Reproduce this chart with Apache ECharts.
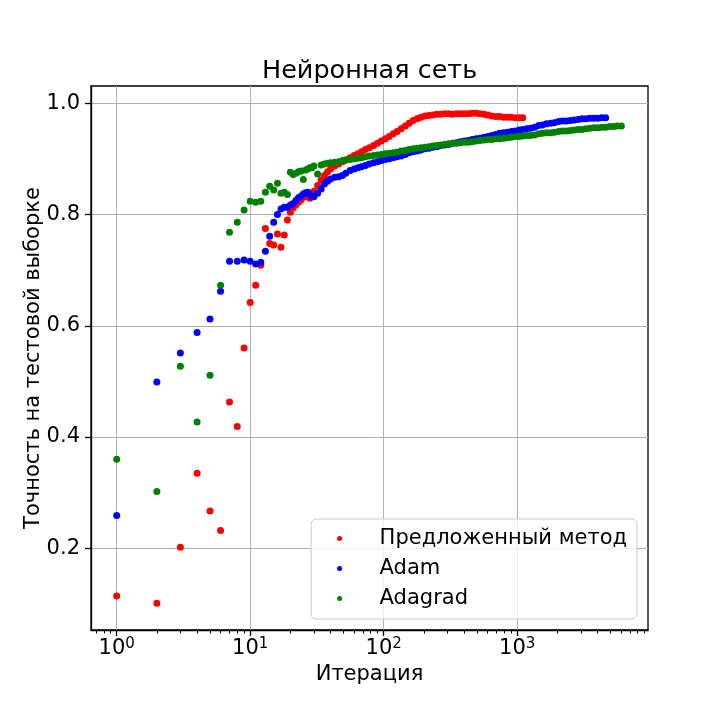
<!DOCTYPE html>
<html style="height: 100%">
<head>
    <meta charset="UTF-8">
    <title>Нейронная сеть</title>
    <script src="https://cdn.jsdelivr.net/npm/echarts@6/dist/echarts.min.js"></script>
    <style>
        #main {
            width: 720px;
            height: 720px;
        }
    </style>
</head>
<body style="margin: 0; background: #fff">
    <div id="main"></div>
    <script type="text/javascript">
        // iteration numbers (every step up to 30, then sampled along the dense part)
        var iterations = [
            1, 2, 3, 4, 5, 6, 7, 8, 9, 10, 11, 12, 13, 14, 15, 16, 17, 18, 19, 20,
            21, 22, 23, 24, 25, 26, 27, 28, 29, 30,
            32, 34, 36, 38, 40, 43, 46, 49, 52, 56, 60, 64, 68, 73, 78, 84, 90, 96, 103, 110,
            118, 126, 135, 145, 155, 166, 178, 190, 204, 218, 233, 250, 267, 286, 306, 328, 351, 375, 402, 430,
            460, 492, 527, 564, 603, 645, 690, 739, 791, 846, 905, 969, 1037, 1100,
            1180, 1260, 1350, 1450, 1550, 1660, 1780, 1900, 2040, 2180, 2330, 2500, 2670, 2860, 3060,
            3280, 3510, 3750, 4020, 4300, 4600, 4920, 5270, 5640, 6030
        ];

        var proposed = [
            0.114, 0.101, 0.202, 0.335, 0.267, 0.232, 0.463, 0.419, 0.560, 0.642,
            0.673, 0.709, 0.775, 0.748, 0.745, 0.765, 0.741, 0.763, 0.790, 0.804,
            0.812, 0.817, 0.822, 0.826, 0.831, 0.834, 0.832, 0.829, 0.835, 0.842,
            0.852, 0.862, 0.870, 0.877, 0.882, 0.887, 0.891, 0.895, 0.898, 0.902,
            0.906, 0.909, 0.913, 0.917, 0.920, 0.924, 0.928, 0.932, 0.936, 0.940,
            0.945, 0.949, 0.954, 0.959, 0.964, 0.969, 0.972, 0.975, 0.977, 0.978,
            0.979, 0.980, 0.980, 0.981, 0.981, 0.980, 0.981, 0.981, 0.981, 0.981,
            0.982, 0.982, 0.981, 0.980, 0.979, 0.977, 0.976, 0.976, 0.975, 0.975,
            0.975, 0.974, 0.974, 0.974
        ];

        var adam = [
            0.259, 0.499, 0.551, 0.588, 0.612, 0.662, 0.716, 0.716, 0.718, 0.716,
            0.711, 0.714, 0.734, 0.761, 0.786, 0.800, 0.810, 0.813, 0.813, 0.817,
            0.820, 0.825, 0.830, 0.833, 0.837, 0.839, 0.840, 0.836, 0.832, 0.832,
            0.838, 0.846, 0.855, 0.860, 0.864, 0.867, 0.868, 0.870, 0.874, 0.879,
            0.882, 0.884, 0.886, 0.888, 0.891, 0.893, 0.895, 0.897, 0.899, 0.900,
            0.902, 0.904, 0.905, 0.908, 0.911, 0.913, 0.914, 0.916, 0.918, 0.919,
            0.921, 0.922, 0.924, 0.925, 0.926, 0.928, 0.929, 0.931, 0.932, 0.933,
            0.935, 0.936, 0.937, 0.939, 0.940, 0.942, 0.944, 0.946, 0.947, 0.948,
            0.949, 0.950, 0.952, 0.953, 0.954, 0.955, 0.957, 0.960, 0.961, 0.963,
            0.964, 0.965, 0.967, 0.968, 0.968, 0.969, 0.970, 0.971, 0.972, 0.972,
            0.973, 0.973, 0.973, 0.974, 0.974
        ];

        var adagrad = [
            0.360, 0.302, 0.527, 0.427, 0.511, 0.673, 0.768, 0.786, 0.808, 0.824,
            0.822, 0.824, 0.840, 0.851, 0.844, 0.856, 0.838, 0.840, 0.836, 0.876,
            0.872, 0.874, 0.877, 0.878, 0.863, 0.880, 0.882, 0.884, 0.884, 0.887,
            0.873, 0.889, 0.891, 0.892, 0.893, 0.894, 0.895, 0.897, 0.898, 0.899,
            0.900, 0.901, 0.902, 0.904, 0.905, 0.906, 0.907, 0.908, 0.909, 0.910,
            0.911, 0.912, 0.914, 0.915, 0.917, 0.918, 0.919, 0.920, 0.921, 0.922,
            0.923, 0.924, 0.925, 0.926, 0.927, 0.928, 0.928, 0.929, 0.930, 0.930,
            0.931, 0.932, 0.933, 0.934, 0.935, 0.935, 0.936, 0.936, 0.937, 0.938,
            0.939, 0.940, 0.940, 0.941, 0.942, 0.942, 0.943, 0.945, 0.946, 0.947,
            0.947, 0.948, 0.949, 0.950, 0.950, 0.951, 0.952, 0.953, 0.953, 0.954,
            0.955, 0.956, 0.956, 0.957, 0.957, 0.958, 0.958, 0.959, 0.959
        ];

        var seriesNames = ['Предложенный метод', 'Adam', 'Adagrad'];
        var seriesColors = ['#ff0000', '#0000ff', '#008000'];
        var xMajorTicks = [1, 10, 100, 1000];
        var xMinorTicks = [
            0.7, 0.8, 0.9, 2, 3, 4, 5, 6, 7, 8, 9, 20, 30, 40, 50, 60, 70, 80, 90,
            200, 300, 400, 500, 600, 700, 800, 900, 2000, 3000, 4000, 5000, 6000, 7000, 8000, 9000
        ];
        var yTicks = [0.2, 0.4, 0.6, 0.8, 1.0];

        function pairs(values) {
            return values.map(function (v, i) {
                return [iterations[i], v];
            });
        }

        var font = 'DejaVu Sans';
        var chartDom = document.getElementById('main');
        var myChart = echarts.init(chartDom);
        var option;

        option = {
            animation: false,
            backgroundColor: '#ffffff',
            textStyle: { fontFamily: font },
            title: {
                text: 'Нейронная сеть',
                left: 262,
                top: 58,
                padding: 0,
                textStyle: { fontFamily: font, fontSize: 25.5, fontWeight: 'normal', color: '#000' }
            },
            grid: {
                left: 91,
                right: 72,
                top: 86,
                bottom: 90,
                show: true,
                borderColor: '#000',
                borderWidth: 1.3,
                backgroundColor: 'transparent'
            },
            legend: {
                data: seriesNames,
                orient: 'vertical',
                right: 83,
                bottom: 101,
                icon: 'circle',
                itemWidth: 10,
                itemHeight: 5,
                itemGap: 9,
                padding: [9, 10, 10, 26],
                backgroundColor: 'rgba(255,255,255,0.8)',
                borderColor: '#cccccc',
                borderWidth: 1,
                borderRadius: 5,
                selectedMode: false,
                textStyle: {
                    fontFamily: font,
                    fontSize: 21,
                    color: '#000',
                    padding: [0, 0, 0, 30]
                }
            },
            xAxis: [{
                type: 'log',
                logBase: 10,
                min: 0.642,
                max: 9550,
                name: 'Итерация',
                nameLocation: 'middle',
                nameGap: 34,
                nameMoveOverlap: false,
                nameTextStyle: { fontFamily: font, fontSize: 21, color: '#000' },
                axisLine: { show: true, lineStyle: { color: '#000', width: 1.3 } },
                axisTick: {
                    show: true,
                    length: 6,
                    customValues: xMajorTicks,
                    lineStyle: { color: '#000', width: 1.3 }
                },
                axisLabel: {
                    customValues: xMajorTicks,
                    margin: 7,
                    color: '#000',
                    formatter: function (v) {
                        return '{b|10}{e|' + Math.round(Math.log10(v)) + '}';
                    },
                    rich: {
                        b: { fontFamily: font, fontSize: 21, lineHeight: 24, color: '#000' },
                        e: { fontFamily: font, fontSize: 15, lineHeight: 15, verticalAlign: 'top', color: '#000' }
                    }
                },
                splitLine: { show: true, lineStyle: { color: '#b0b0b0', width: 1 } }
            }, {
                type: 'log',
                logBase: 10,
                min: 0.642,
                max: 9550,
                position: 'bottom',
                axisLine: { show: false },
                axisLabel: { show: false },
                splitLine: { show: false },
                axisTick: {
                    show: true,
                    length: 3.5,
                    customValues: xMinorTicks,
                    lineStyle: { color: '#000', width: 1 }
                }
            }],
            yAxis: {
                type: 'value',
                min: 0.0531,
                max: 1.031,
                name: 'Точность на тестовой выборке',
                nameLocation: 'middle',
                nameGap: 47,
                nameMoveOverlap: false,
                nameTextStyle: { fontFamily: font, fontSize: 21, color: '#000' },
                axisLine: { show: true, lineStyle: { color: '#000', width: 1.3 } },
                axisTick: {
                    show: true,
                    length: 6,
                    customValues: yTicks,
                    lineStyle: { color: '#000', width: 1.3 }
                },
                axisLabel: {
                    customValues: yTicks,
                    margin: 11,
                    fontFamily: font,
                    fontSize: 21,
                    color: '#000',
                    formatter: function (v) {
                        return v.toFixed(1);
                    }
                },
                splitLine: { show: true, lineStyle: { color: '#b0b0b0', width: 1 } }
            },
            series: [{
                name: seriesNames[0],
                type: 'scatter',
                xAxisIndex: 0,
                symbolSize: 7,
                itemStyle: { color: seriesColors[0], opacity: 1 },
                data: pairs(proposed)
            }, {
                name: seriesNames[1],
                type: 'scatter',
                xAxisIndex: 0,
                symbolSize: 7,
                itemStyle: { color: seriesColors[1], opacity: 1 },
                data: pairs(adam)
            }, {
                name: seriesNames[2],
                type: 'scatter',
                xAxisIndex: 0,
                symbolSize: 7,
                itemStyle: { color: seriesColors[2], opacity: 1 },
                data: pairs(adagrad)
            }]
        };

        myChart.setOption(option);
    </script>
</body>
</html>
